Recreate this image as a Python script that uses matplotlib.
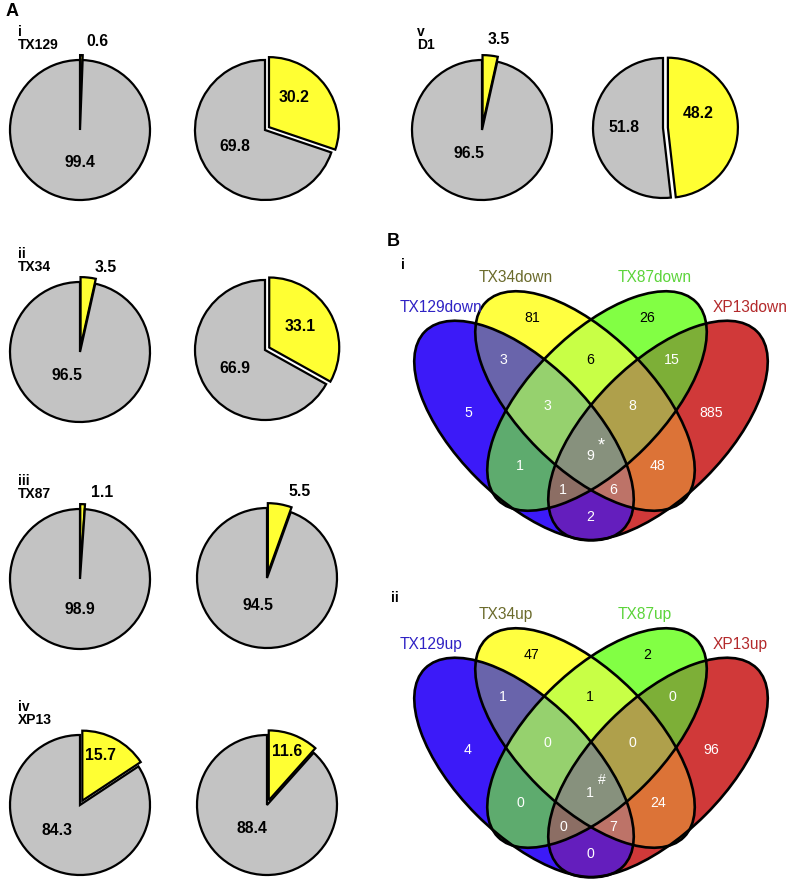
import numpy as np
import matplotlib
matplotlib.use('Agg')
import matplotlib.pyplot as plt
from matplotlib.patches import Ellipse

plt.rcParams['font.family'] = ['Liberation Sans', 'DejaVu Sans']

# ---------------- data ----------------
pie_ids = ['i', 'ii', 'iii', 'iv', 'v']
pie_names = ['TX129', 'TX34', 'TX87', 'XP13', 'D1']
left_yellow = [0.6, 3.5, 1.1, 15.7, 3.5]
left_gray = [99.4, 96.5, 98.9, 84.3, 96.5]
right_yellow = [30.2, 33.1, 5.5, 11.6, 48.2]
right_gray = [69.8, 66.9, 94.5, 88.4, 51.8]

venn_regions = ['B', 'Y', 'G', 'R', 'BY', 'YG', 'GR', 'BYG', 'YGR',
                'BG', 'YR', 'BYGR', 'BGR', 'BYR', 'BR']
down_counts = [5, 81, 26, 885, 3, 6, 15, 3, 8, 1, 48, 9, 1, 6, 2]
up_counts = [4, 47, 2, 96, 1, 1, 0, 0, 0, 0, 24, 1, 0, 7, 0]
down_sets = ['TX129down', 'TX34down', 'TX87down', 'XP13down']
up_sets = ['TX129up', 'TX34up', 'TX87up', 'XP13up']
down_mark = '*'
up_mark = '#'

# ---------------- layout / style ----------------
W, H = 790, 885
YELLOW = '#ffff33'
GRAY = '#c3c3c3'
R_PX = 70.0
AX_HALF = 100.0

left_centers = [(80, 130), (80, 352), (80, 579), (80, 805), (482, 130)]
right_centers = [(265, 130), (265, 350), (267, 578), (267, 805), (663, 128)]
left_ylab = [(0.25, 1.26), (0.37, 1.21), (0.31, 1.24), (0.29, 0.71), (0.24, 1.29)]
left_glab = [(0.0, -0.47), (-0.19, -0.33), (0.0, -0.44), (-0.33, -0.36), (-0.19, -0.33)]
right_ylab = [(0.41, 0.47), (0.5, 0.33), (0.47, 1.23), (0.29, 0.77), (0.5, 0.2)]
right_glab = [(-0.43, -0.23), (-0.43, -0.26), (-0.13, -0.39), (-0.21, -0.33), (-0.56, 0.0)]
name_x = [18, 18, 18, 18, 417]

fig = plt.figure(figsize=(W / 100, H / 100), dpi=100)
ax0 = fig.add_axes([0, 0, 1, 1])
ax0.set_xlim(0, W)
ax0.set_ylim(H, 0)
ax0.axis('off')


def draw_pie(center, values, ylab, glab):
    cx, cy = center
    ax = fig.add_axes([(cx - AX_HALF) / W, 1 - (cy + AX_HALF) / H,
                       2 * AX_HALF / W, 2 * AX_HALF / H])
    ax.pie(values, colors=[YELLOW, GRAY], startangle=90, counterclock=False,
           explode=[0.07, 0.0], radius=1.0,
           wedgeprops=dict(edgecolor='black', linewidth=1.6, joinstyle='miter'))
    lim = AX_HALF / R_PX
    ax.set_xlim(-lim, lim)
    ax.set_ylim(-lim, lim)
    ax.set_aspect('auto')
    ax.axis('off')
    ax.text(ylab[0], ylab[1], f'{values[0]:.1f}', ha='center', va='center',
            fontsize=11.3, fontweight='bold')
    ax.text(glab[0], glab[1], f'{values[1]:.1f}', ha='center', va='center',
            fontsize=11.3, fontweight='bold')


for k in range(5):
    draw_pie(left_centers[k], [left_yellow[k], left_gray[k]], left_ylab[k], left_glab[k])
    draw_pie(right_centers[k], [right_yellow[k], right_gray[k]], right_ylab[k], right_glab[k])
    cx, cy = left_centers[k]
    ax0.text(name_x[k], cy - 98, pie_ids[k], ha='left', va='center',
             fontsize=10, fontweight='bold')
    ax0.text(name_x[k], cy - 85, pie_names[k], ha='left', va='center',
             fontsize=10, fontweight='bold')

ax0.text(6, 12, 'A', ha='left', va='center', fontsize=13, fontweight='bold')
ax0.text(387, 242, 'B', ha='left', va='center', fontsize=13, fontweight='bold')

# ---------------- Venn diagrams ----------------
ell_centers = {'B': (524, 767.5), 'Y': (585, 738), 'G': (597, 738), 'R': (658, 767.5)}
ell_angles = {'B': 45, 'Y': 45, 'G': 135, 'R': 135}
EA, EB = 140.0, 67.0
bits = {'B': 1, 'Y': 2, 'G': 4, 'R': 8}
region_colors = {
    'B': '#3c1af8', 'Y': '#ffff40', 'G': '#82ff44', 'R': '#d03a3a',
    'BY': '#6a64ab', 'YG': '#c8ff46', 'GR': '#7daf37', 'BYG': '#96d26e',
    'YGR': '#afa04b', 'BG': '#5fab6e', 'YR': '#dc7337', 'BYGR': '#87917d',
    'BGR': '#8c6e64', 'BYR': '#be7369', 'BR': '#641ebe'}
label_pos = {'B': (468, 750), 'Y': (532, 655), 'G': (647, 655), 'R': (711, 750),
             'BY': (503, 697), 'YG': (590, 697), 'GR': (672, 697),
             'BYG': (547, 743), 'YGR': (632, 743), 'BG': (520, 803),
             'YR': (658, 803), 'BYGR': (590, 793), 'BGR': (563, 827),
             'BYR': (613, 827), 'BR': (590, 854)}
dark_regions = {'Y', 'G', 'YG'}
set_label_pos = [(400, 645), (479, 615), (618, 615), (713, 645)]
set_label_colors = ['#2f22c4', '#6b6b2c', '#5cd43a', '#b3292b']
mark_pos = {'*': (601, 783), '#': (602, 780)}
mark_size = {'*': 13, '#': 10}

lut = np.zeros((16, 4))
for reg, col in region_colors.items():
    code = sum(bits[c] for c in reg)
    lut[code] = matplotlib.colors.to_rgba(col)


def draw_venn(dy, counts, set_names, mark, roman, roman_pos):
    step = 0.5
    xs = np.arange(400, 785, step)
    ys = np.arange(615 + dy, 885 + dy, step)
    X, Y = np.meshgrid(xs, ys)
    code = np.zeros(X.shape, dtype=int)
    for key in ['B', 'Y', 'G', 'R']:
        cx, cy = ell_centers[key]
        cy = cy + dy
        th = np.deg2rad(ell_angles[key])
        dxp = X - cx
        dyp = Y - cy
        p = dxp * np.cos(th) + dyp * np.sin(th)
        q = -dxp * np.sin(th) + dyp * np.cos(th)
        inside = (p / EA) ** 2 + (q / EB) ** 2 <= 1.0
        code += inside * bits[key]
    img = lut[code]
    ax0.imshow(img, extent=(xs[0] - step / 2, xs[-1] + step / 2,
                            ys[-1] + step / 2, ys[0] - step / 2),
               origin='upper', interpolation='antialiased', aspect='auto', zorder=1)
    for key in ['B', 'Y', 'G', 'R']:
        cx, cy = ell_centers[key]
        ax0.add_patch(Ellipse((cx, cy + dy), 2 * EA, 2 * EB, angle=ell_angles[key],
                              fill=False, edgecolor='black', linewidth=1.9, zorder=3))
    for reg, n in zip(venn_regions, counts):
        x, y = label_pos[reg]
        ax0.text(x, y + dy, str(n), ha='center', va='center', fontsize=10.2,
                 color='black' if reg in dark_regions else 'white', zorder=4)
    mx, my = mark_pos[mark]
    ax0.text(mx, my + dy, mark, ha='center', va='center',
             fontsize=mark_size[mark], color='white', zorder=4)
    for name, (x, y), col in zip(set_names, set_label_pos, set_label_colors):
        ax0.text(x, y + dy, name, ha='left', va='center', fontsize=11.2,
                 color=col, zorder=4)
    ax0.text(roman_pos[0], roman_pos[1], roman, ha='left', va='center',
             fontsize=10, fontweight='bold')


draw_venn(-337, down_counts, down_sets, down_mark, 'i', (401, 265))
draw_venn(0, up_counts, up_sets, up_mark, 'ii', (391, 598))
ax0.set_xlim(0, W)
ax0.set_ylim(H, 0)

fig.savefig('out.png', dpi=100)
